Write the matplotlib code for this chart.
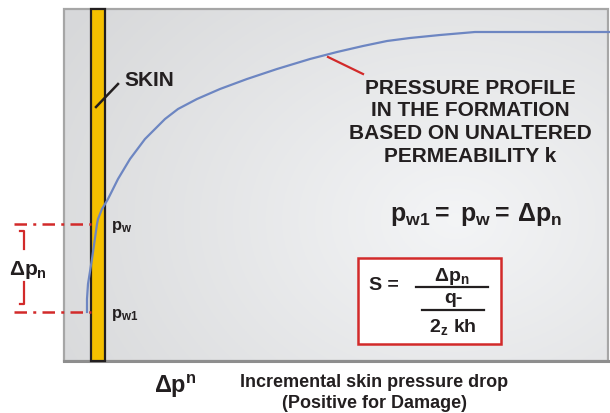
import numpy as np
import matplotlib
matplotlib.use("Agg")
import matplotlib.pyplot as plt
from matplotlib.patches import Rectangle

plt.rcParams['font.family'] = ['Liberation Sans', 'DejaVu Sans']
plt.rcParams['mathtext.fontset'] = 'custom'
plt.rcParams['mathtext.rm'] = 'Liberation Sans:bold'
plt.rcParams['mathtext.bf'] = 'Liberation Sans:bold'
plt.rcParams['mathtext.it'] = 'Liberation Sans:bold'
plt.rcParams['mathtext.sf'] = 'Liberation Sans:bold'
plt.rcParams['mathtext.default'] = 'bf'

# pressure profile (pixel coords of the sketch)
curve_x = [87, 87, 88, 92, 97, 98, 102, 108, 118, 130, 145, 165, 178, 197,
           220, 247, 277, 310, 337, 363, 387, 410, 440, 475, 520, 610]
curve_y = [313, 300, 285, 260, 225, 220, 210, 200, 180, 160, 140, 120, 110, 100,
           90, 80, 70, 60, 53, 47, 42, 39, 36, 33, 33, 33]

p_w_level = 225
p_w1_level = 313

formation_lines = ["PRESSURE PROFILE", "IN THE FORMATION",
                   "BASED ON UNALTERED", "PERMEABILITY k"]
caption_lines = ["Incremental skin pressure drop", "(Positive for Damage)"]

ink = '#231f20'
red = '#d22a2a'

fig = plt.figure(figsize=(6.1, 4.14), dpi=100)
ax = fig.add_axes([0, 0, 1, 1])
ax.set_xlim(0, 610)
ax.set_ylim(414, 0)
ax.axis('off')

# shaded panel
gx, gy = np.meshgrid(np.linspace(0, 1, 300), np.linspace(0, 1, 200))
d = np.sqrt(((gx - 0.72) / 0.85) ** 2 + ((gy - 0.6) / 1.0) ** 2)
shade = 0.955 - 0.11 * np.clip(d, 0, 1)
rgb = np.dstack([shade, shade + 0.004, shade + 0.01])
ax.imshow(np.clip(rgb, 0, 1), extent=(64, 608, 362, 10), aspect='auto', zorder=0)
ax.add_patch(Rectangle((64, 10), 544, 352, fill=False, ec='#a6a6a6', lw=1.6, zorder=1))
ax.plot([64, 608], [362, 362], color='#8e8e8e', lw=2.2, zorder=1)

# skin column
ax.add_patch(Rectangle((91, 10), 14, 352, fc='#f5c000', ec=ink, lw=1.6, zorder=2))

ax.plot(curve_x, curve_y, color='#6d86c2', lw=1.6, zorder=3)

# SKIN label
ax.plot([96, 118], [108, 85], color=ink, lw=1.8, zorder=4)
ax.text(124, 80, "SKIN", fontsize=15, fontweight='bold', color=ink, va='center')

# pressure levels
dd = (0, (5, 2.5, 1.2, 2.5))
for lev in [p_w_level, p_w1_level]:
    ax.plot([14, 91], [lev, lev], color=red, lw=1.8, ls=dd, zorder=4)
ax.text(111, p_w_level + 2, r"$p_{w}$", fontsize=12, color=ink, va='center')
ax.text(111, p_w1_level + 2, r"$p_{w1}$", fontsize=12, color=ink, va='center')

# bracket for delta p
ax.plot([20, 23.5, 23.5], [232, 232, 250], color=red, lw=1.6)
ax.plot([23.5, 23.5, 20], [283, 305, 305], color=red, lw=1.6)
ax.text(9, 270, r"$\Delta p_{n}$", fontsize=15, color=ink, va='center')

# formation annotation
ax.plot([328, 363], [58, 75], color=red, lw=1.6, zorder=4)
for i, line in enumerate(formation_lines):
    ax.text(470, 88 + 23 * i, line, fontsize=15, fontweight='bold', color=ink,
            ha='center', va='center')

ax.text(476, 215, r"$p_{w1}{=}\ p_{w}{=}\,\Delta p_{n}$", fontsize=18,
        color=ink, ha='center', va='center')

# skin factor box
ax.add_patch(Rectangle((358, 259), 143, 86, fc='white', ec=red, lw=1.8, zorder=4))
ax.text(369, 286, "S =", fontsize=14, fontweight='bold', color=ink, va='center', zorder=5)
ax.text(452, 277, r"$\Delta p_{n}$", fontsize=14, color=ink,
        ha='center', va='center', zorder=5)
ax.plot([416, 488], [288, 288], color=ink, lw=1.6, zorder=5)
ax.text(453, 299, "q-", fontsize=14, fontweight='bold', color=ink,
        ha='center', va='center', zorder=5)
ax.plot([422, 484], [311, 311], color=ink, lw=1.6, zorder=5)
ax.text(453, 327, r"$2_{z}\ kh$", fontsize=14, color=ink,
        ha='center', va='center', zorder=5)

# caption
ax.text(154, 386, r"$\Delta p^{n}$", fontsize=17, color=ink, va='center')
for i, line in enumerate(caption_lines):
    ax.text(374, 383 + 21 * i, line, fontsize=13, fontweight='bold', color=ink,
            ha='center', va='center')

fig.savefig('out.png', dpi=100)
